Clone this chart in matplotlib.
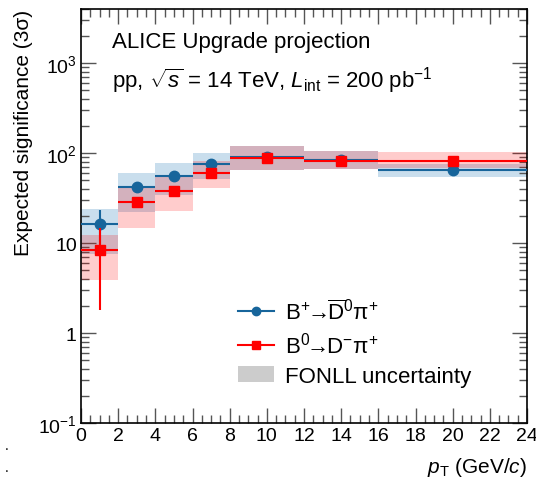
import matplotlib
matplotlib.use('Agg')
import matplotlib.pyplot as plt
from matplotlib.lines import Line2D
from matplotlib.patches import Patch
from matplotlib.ticker import FixedLocator, FixedFormatter, MultipleLocator
import numpy as np

# Data: pT bins and significance values
pt_center = [1, 3, 5, 7, 10, 14, 20]
pt_halfwidth = [1, 1, 1, 1, 2, 2, 4]

bplus_val = [16.5, 41.5, 56, 75, 91, 84, 64.5]
bplus_err = [6.7, 3.5, 3.5, 3, 3, 3, 3]
bplus_fonll_lo = [7.6, 22.3, 34.1, 51.4, 64.7, 66.4, 53.7]
bplus_fonll_hi = [24.2, 59.5, 78.3, 101, 121, 106, 75]

b0_val = [8.3, 28.3, 37.8, 59.8, 87.3, 82.4, 81.5]
b0_err = [6.5, 3, 2.5, 2.5, 2.5, 2.5, 2.5]
b0_fonll_lo = [3.85, 14.9, 22.6, 40.5, 64.7, 66.4, 68.9]
b0_fonll_hi = [12.4, 42.3, 54.7, 81.5, 121, 106, 102]

ytick_vals = [0.1, 1, 10, 100, 1000]
ytick_labels = [r'$10^{-1}$', '1', '10', r'$10^{2}$', r'$10^{3}$']

plt.rcParams['font.family'] = ['Liberation Sans', 'DejaVu Sans']
plt.rcParams['mathtext.fontset'] = 'custom'
plt.rcParams['mathtext.rm'] = 'Liberation Sans'
plt.rcParams['mathtext.it'] = 'Liberation Sans:italic'
plt.rcParams['mathtext.bf'] = 'Liberation Sans:bold'

blue = '#17659b'
red = '#ff0000'

fig = plt.figure(figsize=(5.36, 4.85), dpi=100)
ax = fig.add_axes([81/536, 1-424/485, (527-81)/536, (424-10)/485])

# FONLL uncertainty boxes
for i in range(len(pt_center)):
    x0 = pt_center[i] - pt_halfwidth[i]
    w = 2*pt_halfwidth[i]
    ax.fill_between([x0, x0+w], bplus_fonll_lo[i], bplus_fonll_hi[i],
                    color=(31/255, 119/255, 180/255), alpha=0.24, lw=0, zorder=1)
for i in range(len(pt_center)):
    x0 = pt_center[i] - pt_halfwidth[i]
    w = 2*pt_halfwidth[i]
    ax.fill_between([x0, x0+w], b0_fonll_lo[i], b0_fonll_hi[i],
                    color=red, alpha=0.2, lw=0, zorder=2)

ax.errorbar(pt_center, bplus_val, xerr=pt_halfwidth, yerr=bplus_err, fmt='o',
            color=blue, ms=7.5, elinewidth=1.5, capsize=0, zorder=3)
ax.errorbar(pt_center, b0_val, xerr=pt_halfwidth, yerr=b0_err, fmt='s',
            color=red, ms=7.5, elinewidth=1.5, capsize=0, zorder=4)

ax.set_yscale('log')
ax.set_xlim(0, 24)
ax.set_ylim(0.1, 4000)
ax.xaxis.set_major_locator(MultipleLocator(2))
ax.xaxis.set_minor_locator(MultipleLocator(0.5))
ax.yaxis.set_major_locator(FixedLocator(ytick_vals))
ax.yaxis.set_major_formatter(FixedFormatter(ytick_labels))
ax.tick_params(which='both', direction='in', top=True, right=True, labelsize=14, width=1, color='#555555')
ax.tick_params(which='major', length=11, pad=3)
ax.tick_params(which='minor', length=5.5)
for s in ax.spines.values():
    s.set_linewidth(1.2)

ax.set_ylabel('Expected significance (3σ)', fontsize=15, loc='top', labelpad=4)
ax.set_xlabel(r'$p_{\mathrm{T}}$ (GeV/$c$)', fontsize=15, loc='right', labelpad=8)

ax.text(0.07, 0.922, 'ALICE Upgrade projection', transform=ax.transAxes, fontsize=16, va='center')
ax.text(0.07, 0.83, r'pp, $\sqrt{s}$ = 14 TeV, $L_{\mathrm{int}}$ = 200 pb$^{-1}$',
        transform=ax.transAxes, fontsize=16, va='center')

handles = [Line2D([], [], color=blue, marker='o', ms=6, lw=1.5),
           Line2D([], [], color=red, marker='s', ms=6, lw=1.5),
           Patch(facecolor='#cccccc', edgecolor='none')]
labels = [r'B$^{+}\!\!\rightarrow\!\!\overline{\mathrm{D}}^{0}$π$^{+}$',
          r'B$^{0}\!\!\rightarrow\!\!\mathrm{D}^{-}$π$^{+}$',
          'FONLL uncertainty']
ax.legend(handles, labels, loc='upper left', bbox_to_anchor=(0.328, 0.325), frameon=False,
          fontsize=16, borderpad=0, handlelength=1.6, handletextpad=0.5, labelspacing=0.35)

fig.text(5/536, 1-450/485, '.', fontsize=10)
fig.text(5/536, 1-472/485, '.', fontsize=10)

fig.savefig('out.png', dpi=100)
